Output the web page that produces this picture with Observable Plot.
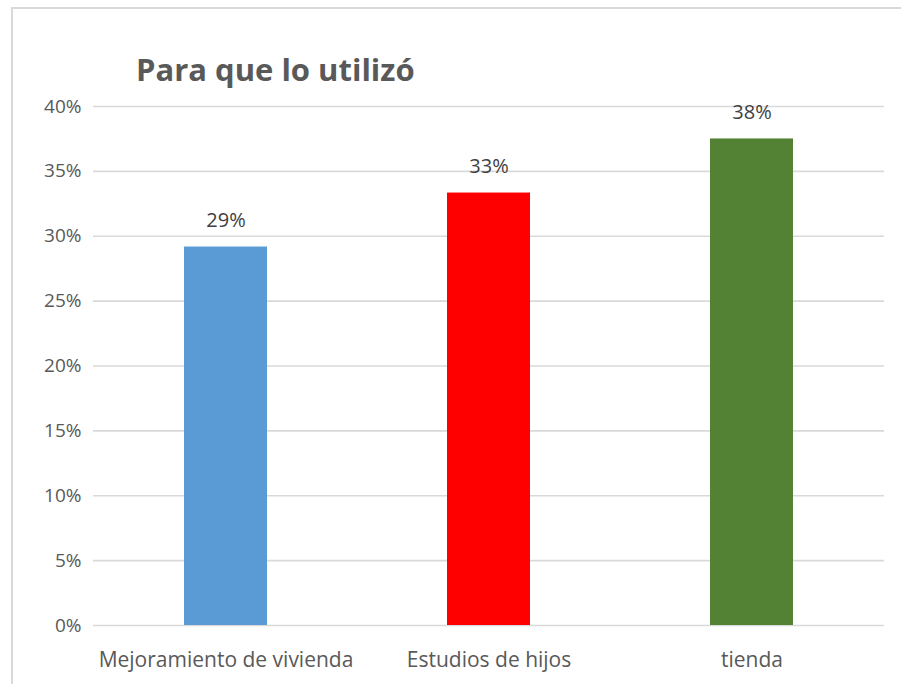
<!DOCTYPE html>
<html>
<head>
<meta charset="utf-8">
<script src="https://cdn.jsdelivr.net/npm/d3@7"></script>
<script src="https://cdn.jsdelivr.net/npm/@observablehq/plot@0.6"></script>
<style>
  html, body { margin: 0; padding: 0; background: #fff; }
  #wrap { position: relative; width: 901px; height: 684px; overflow: hidden; font-family: "Open Sans", sans-serif; }
  #frame { position: absolute; left: 11px; top: 7px; width: 900px; height: 700px; border-left: 2px solid #d9d9d9; border-top: 2px solid #d9d9d9; box-sizing: border-box; }
  #title { position: absolute; left: 136px; top: 54px; font-size: 31px; font-weight: bold; color: #595959; white-space: nowrap; line-height: 31px; }
  #chart { position: absolute; left: 0; top: 90px; }
</style>
</head>
<body>
<div id="wrap">
  <div id="frame"></div>
  <div id="title">Para que lo utilizó</div>
  <div id="chart"></div>
</div>
<script>
const categories = ["Mejoramiento de vivienda", "Estudios de hijos", "tienda"];
const values = [0.2917, 0.3333, 0.375];
const colors = ["#5b9bd5", "#ff0000", "#548235"];
const yTicks = [0, 0.05, 0.10, 0.15, 0.20, 0.25, 0.30, 0.35, 0.40];

const data = categories.map((c, i) => ({category: c, value: values[i], color: colors[i]}));
const pct = d3.format(".0%");

const plot = Plot.plot({
  width: 901,
  height: 594,
  marginLeft: 93,
  marginRight: 17,
  marginTop: 16,
  marginBottom: 59,
  style: {fontFamily: "'Open Sans', sans-serif", fontSize: "19px", color: "#595959", background: "transparent"},
  x: {domain: categories, paddingInner: 0.685, paddingOuter: 0.3425, label: null},
  y: {domain: [0, 0.4], label: null},
  marks: [
    Plot.ruleY(yTicks, {stroke: "#d9d9d9", strokeWidth: 1.7}),
    Plot.barY(data, {x: "category", y: "value", fill: "color"}),
    Plot.text(data, {x: "category", y: "value", text: d => pct(d.value), dy: -26, fill: "#404040", fontSize: 20}),
    Plot.axisY({ticks: yTicks, tickFormat: pct, tickSize: 0, tickPadding: 12, fill: "#595959", fontSize: 19}),
    Plot.axisX({tickSize: 0, tickPadding: 27, fill: "#595959", fontSize: 21})
  ]
});
document.getElementById("chart").appendChild(plot);
</script>
</body>
</html>
